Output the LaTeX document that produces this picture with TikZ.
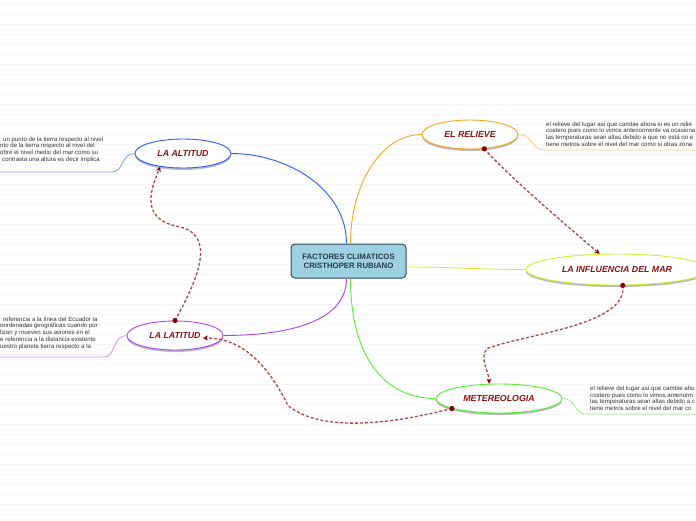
\documentclass[tikz,border=0pt]{standalone}
\usepackage{fontspec}
\setmainfont{Liberation Sans}
\usetikzlibrary{shapes.geometric,shadows,arrows.meta,calc}
\definecolor{rulegray}{HTML}{F4F4F4}
\definecolor{hubfill}{HTML}{9DD0E0}
\definecolor{hubdraw}{HTML}{34495A}
\definecolor{hubtext}{HTML}{2B3B4B}
\definecolor{labred}{HTML}{8B1414}
\definecolor{dashred}{HTML}{A84848}
\definecolor{dotred}{HTML}{8B0000}
\definecolor{cblue}{HTML}{2B5CFF}
\definecolor{cbluel}{HTML}{7A9CFF}
\definecolor{cpurple}{HTML}{B040FF}
\definecolor{cpurplel}{HTML}{CC88FF}
\definecolor{corange}{HTML}{F5A623}
\definecolor{corangel}{HTML}{FFCC77}
\definecolor{cyellow}{HTML}{D4EE30}
\definecolor{cgreen}{HTML}{55EE33}
\definecolor{cgreenl}{HTML}{99EE88}
\definecolor{notetext}{HTML}{333333}
\tikzset{
  rule/.style={rulegray, line width=0.6pt},
  hub/.style={rectangle, rounded corners=4pt, draw=hubdraw, line width=1pt, fill=hubfill,
    minimum width=115pt, minimum height=34pt, inner sep=0pt, align=center,
    font=\fontsize{7.8}{9}\selectfont\bfseries, text=hubtext},
  topic/.style={ellipse, fill=white, line width=0.9pt, minimum height=29pt, inner sep=0pt,
    font=\fontsize{8.8}{10}\selectfont\bfseries\itshape, text=labred,
    drop shadow={shadow xshift=0pt, shadow yshift=-2pt, fill=gray, opacity=0.55}},
  branch/.style={line width=0.9pt},
  side/.style={line width=0.8pt},
  note/.style={anchor=north west, inner sep=0pt, align=left,
    font=\fontsize{6.1}{6.8}\selectfont, text=notetext},
  link/.style={dashred, line width=1.3pt, dash pattern=on 3pt off 2pt,
    -{Stealth[length=5pt,width=5pt,fill=dotred,color=dotred]}},
  linkdot/.style={fill=dotred}
}
\begin{document}
\begin{tikzpicture}[x=1pt,y=-1pt]
\useasboundingbox (0,0) rectangle (696,520);
\clip (0,0) rectangle (696,520);
\fill[white] (0,0) rectangle (696,520);
\foreach \k in {0,...,51} \draw[rule] (0,{4.7+10*\k}) -- (696,{4.7+10*\k});

% nodes
\node[hub] (c) at (348.5,261) {FACTORES CLIMATICOS\\CRISTHOPER RUBIANO};
\node[topic, draw=cblue, minimum width=96pt] (alt) at (183,153.5) {LA ALTITUD};
\node[topic, draw=cpurple, minimum width=96pt] (lat) at (175,335.5) {LA LATITUD};
\node[topic, draw=corange, minimum width=96pt] (rel) at (470,134.5) {EL RELIEVE};
\node[topic, draw=cyellow, minimum width=182pt, minimum height=31pt] (mar) at (617,269.5) {LA INFLUENCIA DEL MAR};
\node[topic, draw=cgreen, minimum width=126pt] (met) at (499,398.5) {METEREOLOGIA};

% main branches
\draw[branch, cblue] ([xshift=-2pt]c.north) .. controls +(0,-55) and +(55,0) .. (alt.east);
\draw[branch, corange] ([xshift=2pt]c.north) .. controls +(0,-60) and +(-40,0) .. (rel.west);
\draw[branch, cpurple] ([xshift=-2pt]c.south) .. controls +(0,45) and +(60,0) .. (lat.east);
\draw[branch, cgreen] ([xshift=2pt]c.south) .. controls +(0,80) and +(-50,0) .. (met.west);
\draw[branch, cyellow] ([yshift=-6pt]c.east) .. controls +(50,0) and +(-50,0) .. (mar.west);

% side lines
\coordinate (altk) at (112,172);
\coordinate (alte) at (0,172);
\coordinate (latk) at (104,357);
\coordinate (late) at (0,357);
\coordinate (relk) at (544,150);
\coordinate (rele) at (696,150);
\coordinate (metk) at (586,414);
\coordinate (mete) at (696,414);
\draw[side, cbluel] (alt.west) .. controls +(-14,0) and +(12,0) .. (altk) -- (alte);
\draw[side, cpurplel] (lat.west) .. controls +(-14,0) and +(12,0) .. (latk) -- (late);
\draw[side, corangel] (rel.east) .. controls +(14,0) and +(-12,0) .. (relk) -- (rele);
\draw[side, cgreenl] (met.east) .. controls +(14,0) and +(-12,0) .. (metk) -- (mete);

% side texts
\node[note] (altt) at (0,136.5) {\hspace*{3pt}un punto de la tierra respecto al nivel\\nto de la tierra respecto al nivel del\\obre el nivel medio del mar como su\\\hspace*{2pt}contrasta una altura es decir implica};
\node[note] (latt) at (0,316.5) {\hspace*{3pt}referencia a la línea del Ecuador la\\oordenadas geográficas cuando por\\lizan y mueven sus aviones en el\\e referencia a la distancia existente\\uestro planeta tierra respecto a la};
\node[note] (relt) at (546,121.5) {el relieve del lugar así que cambie ahora si es un relie\\costero pues como lo vimos anteriormente va ocasiona\\las temperaturas sean altas debido a que no está no e\\tiene metros sobre el nivel del mar como si otras zona};
\node[note] (mett) at (590,385.5) {el relieve del lugar así que cambie aho\\costero pues como lo vimos anteriorm\\las temperaturas sean altas debido a c\\tiene metros sobre el nivel del mar co};

% dashed relation links
\draw[link] (lat.north) .. controls +(22,-40) and +(40,8) .. ($(alt.center)+(-5,73)$) .. controls +(-40,-8) and +(-8,20) .. (alt.210);
\fill[linkdot] (lat.north) circle (2.6);
\draw[link] (rel.315) .. controls +(25,28) and +(-35,-30) .. (mar.138);
\fill[linkdot] (rel.315) circle (2.6);
\draw[link] (mar.290) .. controls +(5,40) and +(40,-15) .. ($(met.center)+(-12,-50)$) .. controls +(-8,10) and +(0,-12) .. (met.124);
\fill[linkdot] (mar.290) circle (2.6);
\draw[link] (met.192) .. controls +(-70,18) and +(30,25) .. ($(lat.center)+(113,70)$) .. controls +(-20,-40) and +(40,0) .. ($(lat.center)+(28,2.5)$);
\fill[linkdot] (met.192) circle (2.6);
\end{tikzpicture}
\end{document}
